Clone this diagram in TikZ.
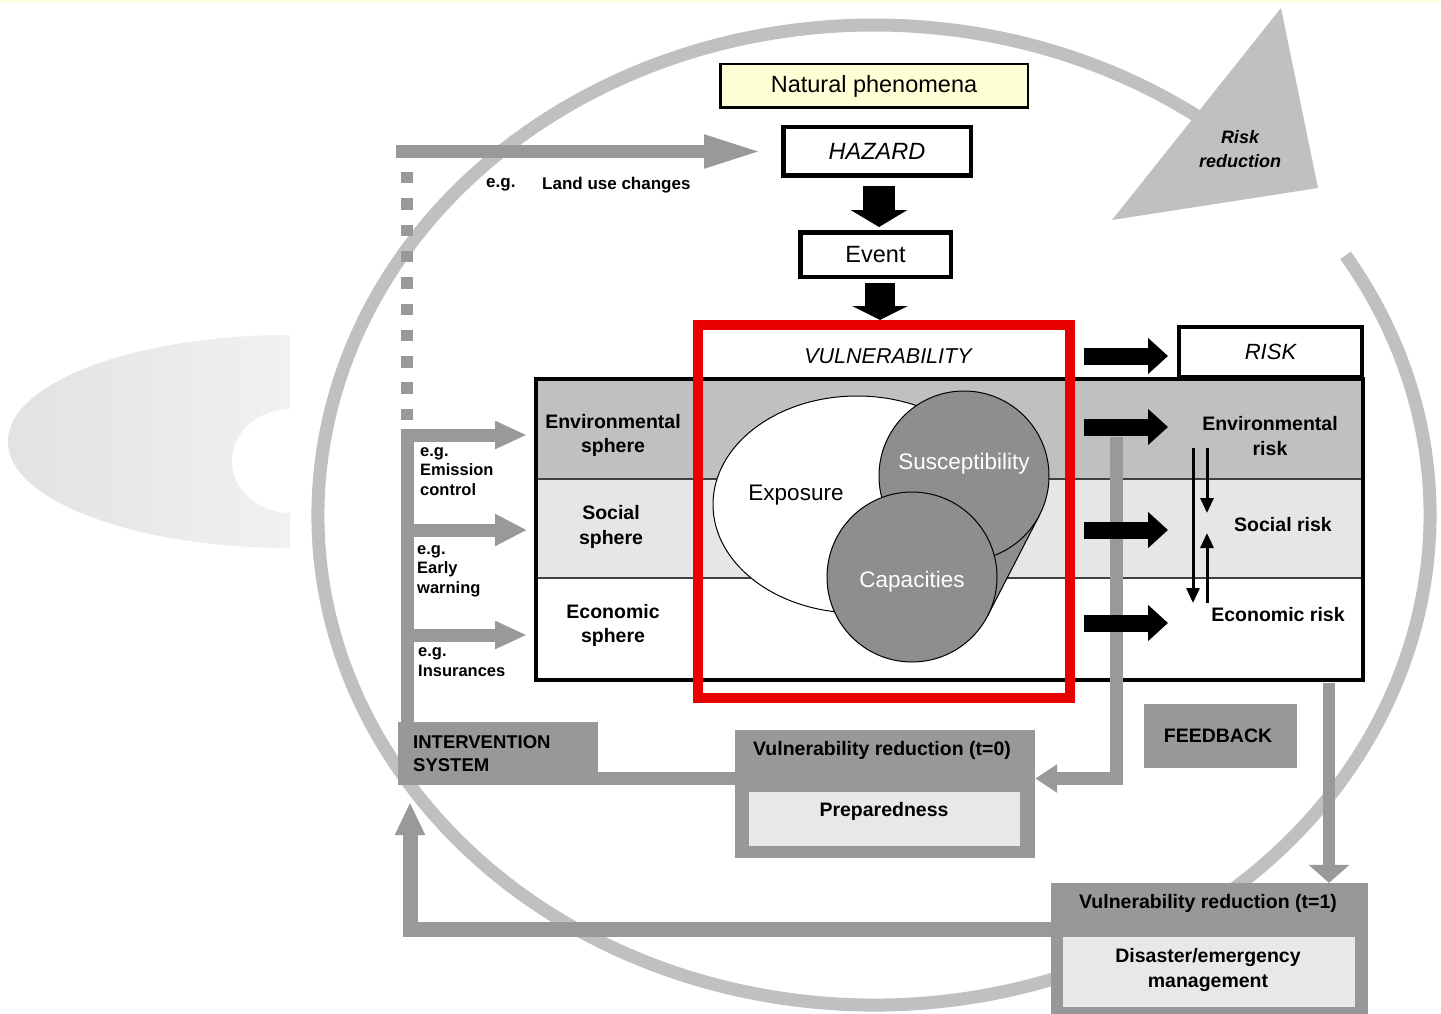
\documentclass[tikz,border=0pt]{standalone}
\usepackage{fontspec}
\setmainfont{Liberation Sans}
\usetikzlibrary{arrows.meta,calc}
\definecolor{ringg}{RGB}{192,192,192}
\definecolor{lineg}{RGB}{153,153,153}
\definecolor{boxg}{RGB}{152,152,152}
\definecolor{rowa}{RGB}{192,192,192}
\definecolor{rowb}{RGB}{230,230,230}
\definecolor{innerg}{RGB}{232,232,232}
\definecolor{circg}{RGB}{142,142,142}
\definecolor{natfill}{RGB}{255,255,214}
\definecolor{redbox}{RGB}{232,0,0}
\definecolor{shadeL}{RGB}{226,226,226}
\definecolor{shadeR}{RGB}{241,241,241}
\newcommand{\fsz}[2]{\fontsize{#1}{#2}\selectfont}
\begin{document}
\begin{tikzpicture}[x=1pt,y=-1pt,
  lbl/.style={inner sep=0pt, font=\bfseries\fsz{19.5}{24.5}, align=center},
  eg/.style={inner sep=0pt, anchor=west, font=\bfseries\fsz{16.5}{19.5}, align=left},
  gline/.style={draw=lineg, line width=13pt},
  blkarrow/.style={draw=black, line width=17pt, -{Triangle[width=35pt,length=20pt]}},
  smallarr/.style={draw=black, line width=3pt, -{Triangle[width=13pt,length=15pt]}},
  graybox/.style={fill=boxg, inner sep=0pt},
  lightbox/.style={fill=innerg, inner sep=0pt},
  circ/.style={draw=black, line width=1pt, fill=circg}
]
\fill[white] (0,0) rectangle (1441,1014);
\useasboundingbox (0,0) rectangle (1441,1014);
\fill[natfill!60] (0,0) rectangle (1441,3);

% big ring and its arrowhead
\draw[ringg, line width=13pt] ($(874,515)+(-32:556 and 490)$) arc[start angle=-32, end angle=308, x radius=556, y radius=490];
\fill[ringg] (1281,8) -- (1318,188) -- (1112,220) -- cycle;
\node[font=\bfseries\itshape\fsz{18}{24}, align=center] (rr) at (1240,149.5) {Risk\\reduction};

% left shaded shape
\shade[left color=shadeL, right color=shadeR] (290,335) arc[start angle=-90, end angle=-270, x radius=282, y radius=106.5] -- cycle;
\fill[white] (291,409) arc[start angle=-90, end angle=-270, x radius=59, y radius=52] -- cycle;

% table
\fill[rowa] (536,379) rectangle (1363,479);
\fill[rowb] (536,479) rectangle (1363,578);
\draw[black!75, line width=1.2pt] (536,479) -- (1363,479) (536,578) -- (1363,578);
\draw[line width=4pt] (536,379) rectangle (1363,680);

% vulnerability components
\draw[fill=white, line width=1pt] (857,504.5) ellipse [x radius=144, y radius=108.5];
\node[font=\fsz{22.5}{26}] (expo) at (796,495) {Exposure};
\filldraw[fill=circg, line width=1pt] (964,476) -- (1039.6,514.9) -- (987.6,615.9) -- (912,577) -- cycle;
\draw[circ] (964,476) circle[radius=85];
\node[font=\fsz{22.5}{26}, text=white] (susc) at (964,464) {Susceptibility};
\draw[circ] (912,577) circle[radius=85];
\node[font=\fsz{22.5}{26}, text=white] (capa) at (912,582) {Capacities};

% red frame
\draw[redbox, line width=10pt] (698,325) rectangle (1070,698);
\node[font=\itshape\fsz{21.5}{25}] (vul) at (888,356) {VULNERABILITY};

% top boxes
\node[draw, fill=natfill, line width=2.5pt, minimum width=307.5pt, minimum height=43.5pt, inner sep=0pt, font=\fsz{23.5}{28}] (nat) at (874,86) {Natural phenomena};
\node[draw, fill=white, line width=4.5pt, minimum width=187.5pt, minimum height=48.5pt, inner sep=0pt, font=\itshape\fsz{23.5}{28}] (hazard) at (877,151.5) {HAZARD};
\node[draw, fill=white, line width=4.5pt, minimum width=150.5pt, minimum height=44.5pt, inner sep=0pt, font=\fsz{23.5}{28}] (event) at (875.5,254.5) {Event};
\coordinate (hz) at (879,178);
\coordinate (ev) at (879,227);
\coordinate (evb) at (880,283);
\coordinate (vtop) at (880,320);
\draw[black, line width=32pt, -{Triangle[width=56pt,length=17pt]}] ($(hz)+(0,8)$) -- (ev);
\draw[black, line width=30pt, -{Triangle[width=55pt,length=14pt]}] (evb) -- (vtop);

% RISK
\node[draw, fill=white, line width=4pt, minimum width=183pt, minimum height=50pt, inner sep=0pt, font=\itshape\fsz{22}{26}] (risk) at (1270.5,352) {RISK};
\node[lbl] (envs) at (613,435.5) {Environmental\\sphere};
\node[lbl] (socs) at (611,527) {Social\\sphere};
\node[lbl] (ecos) at (613,625.5) {Economic\\sphere};
\node[lbl] (envr) at (1270,436) {Environmental\\risk};
\node[lbl] (socr) at (1283,525) {Social risk};
\node[lbl] (ecor) at (1278,615) {Economic risk};

% bottom boxes
\node[graybox, minimum width=200pt, minimum height=63pt] (interv) at (498,753.5) {};
\node[anchor=west, inner sep=0pt, font=\bfseries\fsz{18.5}{23}, align=left] (intervt) at (413,753.5) {INTERVENTION\\SYSTEM};
\node[graybox, minimum width=300pt, minimum height=128pt] (vr0) at (885,794) {};
\node[lightbox, minimum width=271pt, minimum height=54pt] (prepbox) at (884.5,819) {};
\node[lbl] (vr0t) at (882,750) {Vulnerability reduction (t=0)};
\node[lbl] (prep) at (884,811) {Preparedness};
\node[graybox, minimum width=153pt, minimum height=64pt] (fb) at (1220.5,736) {};
\node[lbl] (fbt) at (1218,736) {FEEDBACK};
\node[graybox, minimum width=317pt, minimum height=131pt] (vr1) at (1209.5,948.5) {};
\node[lightbox, minimum width=292pt, minimum height=70pt] (dembox) at (1209,972) {};
\node[lbl] (vr1t) at (1208,903) {Vulnerability reduction (t=1)};
\node[lbl] (dem) at (1208,970) {Disaster/emergency\\management};

% feedback connector (under the black arrows)
\draw[gline, -{Triangle[width=27pt,length=22pt]}] (1116.5,437) -- (1116.5,778.5) -- (vr0.east |- 0,778.5);

% black arrows to risk
\foreach \yy/\nm in {356/a,427/b,530/c,623/d}{
  \coordinate (ra\nm) at (1084,\yy);
  \coordinate (rb\nm) at (1168,\yy);
  \draw[blkarrow] (ra\nm) -- (rb\nm);
}
\coordinate (s1) at (1193,448); \coordinate (s2) at (1193,603);
\coordinate (s3) at (1207,448); \coordinate (s4) at (1207,513);
\coordinate (s5) at (1207,603); \coordinate (s6) at (1207,533);
\draw[smallarr] (s1) -- (s2);
\draw[smallarr] (s3) -- (s4);
\draw[smallarr] (s5) -- (s6);

% gray connectors
\coordinate (dtop) at (407,172);
\coordinate (dbot) at (407,421);
\draw[lineg, line width=12pt, dash pattern=on 11.5pt off 14.8pt] (dtop) -- (dbot);
\coordinate (ltop) at (396,151.5);
\draw[gline, -{Triangle[width=30pt,length=59pt]}] (ltop) -- ($(hazard.west)+(-18,0)$);
\node[eg, font=\bfseries\fsz{17}{20}] (eg0) at (486,185) {e.g.};
\node[eg, font=\bfseries\fsz{17}{20}] (luc) at (542,185) {Land use changes};

\draw[gline, -{Triangle[width=26pt,length=32pt]}] (interv.north -| 407,0) -- (407,435) -- (527,435);
\draw[gline, -{Triangle[width=30pt,length=32pt]}] (407,530) -- (527,530);
\draw[gline, -{Triangle[width=26pt,length=32pt]}] (407,635) -- (527,635);
\node[eg] (eg1) at (420,471.5) {e.g.\\Emission\\control};
\node[eg] (eg2) at (417,571) {e.g.\\Early\\warning};
\node[eg] (eg3) at (418,662) {e.g.\\Insurances};

\draw[gline] (interv.east |- 0,778.5) -- (vr0.west |- 0,778.5);
\draw[lineg, line width=12pt, -{Triangle[width=40pt,length=18pt]}] (1329,683) -- (vr1.north -| 1329,0);
\draw[gline, line width=15pt, -{Triangle[width=28pt,length=33pt]}] (vr1.west |- 0,929) -- (410,929) -- ($(interv.south -| 410,0)+(0,17)$);
\end{tikzpicture}
\end{document}
